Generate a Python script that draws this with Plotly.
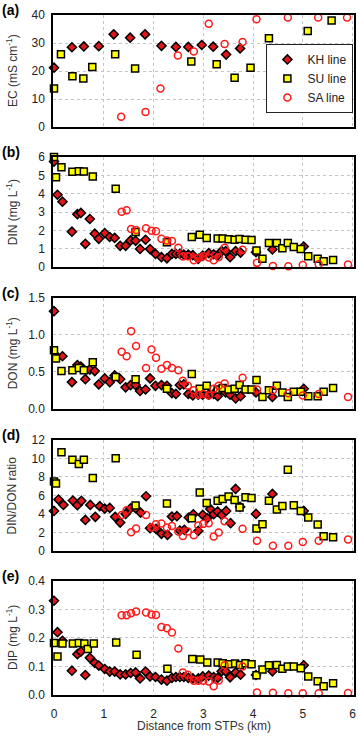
import plotly.graph_objects as go

# ---------------- data ----------------
# Panel (a) EC (mS cm-1)
KH_ec_x = [0.0, 0.36, 0.60, 0.90, 1.20, 1.53, 1.83, 2.16, 2.45, 2.70, 2.97, 3.20, 3.46, 3.74, 5.00]
KH_ec = [21.2, 28.5, 28.8, 28.9, 33.1, 31.9, 33.1, 29.0, 28.6, 28.6, 29.3, 28.7, 25.9, 28.1, 22.6]
SU_ec_x = [0.0, 0.14, 0.37, 0.59, 0.77, 1.23, 1.63, 2.76, 3.27, 3.63, 3.95, 4.32, 4.69, 5.10, 5.58]
SU_ec = [13.8, 26.0, 18.2, 17.4, 21.5, 26.0, 20.9, 23.4, 22.4, 17.6, 21.2, 31.7, 26.0, 34.3, 38.0]
SA_ec_x = [1.35, 1.84, 2.14, 2.49, 2.81, 3.11, 3.43, 3.79, 4.07, 4.70, 5.31, 5.89]
SA_ec = [3.7, 5.4, 13.8, 25.6, 27.0, 36.9, 29.7, 30.4, 38.5, 39.1, 39.1, 39.1]

# KH line (panels b, c, e)
KH_x = [0.0, 0.07, 0.17, 0.36, 0.47, 0.54, 0.63, 0.72, 0.82, 0.90,
        1.02, 1.12, 1.22, 1.33, 1.44, 1.54, 1.64, 1.73, 1.84, 1.93,
        2.04, 2.16, 2.27, 2.37, 2.45, 2.53, 2.61, 2.70, 2.79, 2.90,
        2.99, 3.11, 3.21, 3.29, 3.37, 3.45, 3.54, 3.65, 3.75, 4.06,
        4.39, 5.02]
KH_din = [5.76, 3.95, 3.57, 1.94, 2.89, 2.96, 1.28, 2.63, 1.83, 1.55,
          1.86, 1.65, 1.60, 1.17, 1.17, 1.46, 1.44, 1.00, 1.50, 0.99,
          0.73, 0.55, 0.49, 0.73, 0.73, 0.73, 0.69, 0.69, 0.66, 0.46,
          0.64, 0.77, 0.71, 0.64, 0.88, 0.88, 0.55, 0.88, 0.80, 0.82,
          0.97, 1.13]
KH_don = [1.32, 0.70, 0.71, 0.36, 0.59, 0.57, 0.40, 0.53, 0.51, 0.33,
          0.41, 0.36, 0.45, 0.40, 0.29, 0.32, 0.32, 0.24, 0.26, 0.41,
          0.31, 0.32, 0.31, 0.21, 0.20, 0.32, 0.33, 0.20, 0.18, 0.19,
          0.19, 0.19, 0.20, 0.17, 0.26, 0.22, 0.19, 0.14, 0.17, 0.22,
          0.16, 0.27]
KH_dip = [0.33, 0.22, 0.19, 0.085, 0.143, 0.152, 0.07, 0.13, 0.112, 0.103,
          0.091, 0.082, 0.082, 0.072, 0.072, 0.077, 0.079, 0.058, 0.082, 0.065,
          0.063, 0.054, 0.05, 0.06, 0.063, 0.063, 0.063, 0.06, 0.058, 0.058,
          0.065, 0.068, 0.063, 0.06, 0.083, 0.083, 0.062, 0.079, 0.071, 0.07,
          0.083, 0.104]
KH_ratio_x = [0.0, 0.09, 0.19, 0.38, 0.47, 0.55, 0.63, 0.73, 0.83, 0.92,
              1.02, 1.12, 1.23, 1.33, 1.44, 1.54, 1.64, 1.74, 1.85, 1.93,
              2.05, 2.16, 2.28, 2.37, 2.47, 2.53, 2.62, 2.71, 2.80, 2.90,
              2.99, 3.08, 3.14, 3.21, 3.29, 3.37, 3.46, 3.55, 3.65, 3.74,
              4.06, 4.39, 5.02]
KH_ratio = [4.32, 5.55, 4.97, 5.44, 4.94, 5.41, 3.35, 4.97, 3.68, 4.83,
            4.58, 4.65, 3.68, 3.06, 4.0, 4.61, 4.61, 4.14, 5.91, 2.45,
            2.38, 1.84, 1.73, 3.71, 3.75, 2.2, 2.27, 3.6, 3.96, 2.16,
            3.89, 3.53, 4.54, 3.96, 4.25, 3.89, 4.32, 2.99, 6.7, 4.76,
            4.0, 6.16, 4.32]

# SU line
SU_x = [0.0, 0.04, 0.15, 0.37, 0.50, 0.60, 0.78, 1.24, 1.64, 2.27,
        2.77, 2.93, 3.07, 3.29, 3.39, 3.51, 3.63, 3.73, 3.85, 3.97,
        4.07, 4.19, 4.32, 4.48, 4.59, 4.70, 4.82, 4.96, 5.11, 5.30,
        5.42, 5.61]
SU_din = [6.0, 4.9, 5.45, 5.2, 5.23, 5.22, 4.95, 4.28, 1.92, 1.37,
          1.65, 1.77, 1.6, 1.57, 1.57, 1.52, 1.5, 1.54, 1.5, 1.48,
          0.91, 0.46, 1.32, 1.32, 1.04, 1.32, 1.1, 1.0, 0.6, 0.46,
          0.33, 0.4]
SU_don = [0.79, 0.68, 0.51, 0.52, 0.55, 0.52, 0.63, 0.43, 0.40, 0.27,
          0.47, 0.27, 0.31, 0.26, 0.28, 0.26, 0.27, 0.32, 0.26, 0.26,
          0.39, 0.16, 0.25, 0.31, 0.22, 0.16, 0.23, 0.23, 0.17, 0.17,
          0.23, 0.28]
SU_ratio = [7.5, 7.28, 10.67, 9.87, 9.4, 9.87, 7.89, 10.02, 4.9, 5.12,
            3.53, 6.31, 5.19, 5.41, 5.62, 5.87, 5.51, 4.68, 5.8, 5.73,
            2.41, 2.88, 5.41, 4.47, 4.86, 8.79, 4.94, 4.32, 3.6, 2.85,
            1.59, 1.48]
SU_dip_x = [0.0, 0.07, 0.17, 0.38, 0.50, 0.61, 0.68, 0.80, 1.25, 1.66,
            2.28, 2.78, 2.94, 3.08, 3.29, 3.39, 3.52, 3.64, 3.74, 3.85,
            3.97, 4.07, 4.19, 4.32, 4.48, 4.59, 4.70, 4.82, 4.96, 5.11,
            5.30, 5.42, 5.61]
SU_dip = [0.182, 0.135, 0.18, 0.18, 0.182, 0.18, 0.161, 0.18, 0.184, 0.141,
          0.092, 0.126, 0.124, 0.114, 0.114, 0.111, 0.108, 0.11, 0.105, 0.111,
          0.108, 0.069, 0.089, 0.104, 0.105, 0.092, 0.1, 0.1, 0.094, 0.065,
          0.048, 0.031, 0.041]

# SA line
SA_x = [1.36, 1.46, 1.55, 1.65, 1.85, 1.96, 2.05, 2.16, 2.27, 2.37,
        2.50, 2.59, 2.69, 2.81, 2.90, 3.00, 3.11, 3.21, 3.31, 3.43,
        3.79, 4.08, 4.40, 4.71, 5.00, 5.32, 5.91]
SA_din = [3.02, 3.11, 2.09, 2.03, 2.12, 1.99, 1.96, 1.55, 1.46, 1.43,
          1.06, 0.59, 0.60, 0.38, 0.49, 0.60, 0.53, 0.38, 0.55, 1.06,
          0.95, 0.24, 0.07, 0.05, 0.13, 0.16, 0.15]
SA_don = [0.77, 0.71, 1.05, 0.85, 0.55, 0.80, 0.69, 0.54, 0.59, 0.55,
          0.52, 0.38, 0.31, 0.25, 0.19, 0.20, 0.18, 0.27, 0.31, 0.34,
          0.42, 0.26, 0.25, 0.21, 0.18, 0.20, 0.16]
SA_ratio = [3.89, 4.4, 2.02, 2.41, 3.89, 2.52, 2.88, 2.95, 2.52, 2.7,
            2.09, 1.62, 2.09, 1.69, 2.74, 2.92, 2.99, 1.55, 1.98, 3.21,
            2.38, 1.08, 0.54, 0.54, 0.97, 1.08, 1.23]
SA_dip = [0.279, 0.279, 0.286, 0.292, 0.289, 0.282, 0.28, 0.238, 0.234, 0.219,
          0.163, 0.079, 0.071, 0.05, 0.05, 0.05, 0.047, 0.031, 0.051, 0.104,
          0.1, 0.009, 0.008, 0.006, 0.006, 0.006, 0.007]

series_names = ["KH line", "SU line", "SA line"]
panel_labels = ["(a)", "(b)", "(c)", "(d)", "(e)"]
y_titles = ["EC (mS cm<sup>-1</sup>)", "DIN (mg L<sup>-1</sup>)", "DON (mg L<sup>-1</sup>)",
            "DIN/DON ratio", "DIP (mg L<sup>-1</sup>)"]
x_title = "Distance from STPs (km)"
x_ticks = [0, 1, 2, 3, 4, 5, 6]

# ---------------- styling ----------------
FONT = "Liberation Sans, Arial, Helvetica, sans-serif"
styles = {
    "KH line": dict(symbol="diamond", size=7, color="#e3161c", line=dict(color="black", width=1.5)),
    "SU line": dict(symbol="square", size=7, color="#ffff00", line=dict(color="black", width=1.5)),
    "SA line": dict(symbol="circle-open", size=7, color="#ff1a1a", line=dict(color="#ff1a1a", width=1.5)),
}

panels = [
    [(KH_ec_x, KH_ec), (SU_ec_x, SU_ec), (SA_ec_x, SA_ec)],
    [(KH_x, KH_din), (SU_x, SU_din), (SA_x, SA_din)],
    [(KH_x, KH_don), (SU_x, SU_don), (SA_x, SA_don)],
    [(KH_ratio_x, KH_ratio), (SU_x, SU_ratio), (SA_x, SA_ratio)],
    [(KH_x, KH_dip), (SU_dip_x, SU_dip), (SA_x, SA_dip)],
]
y_ranges = [[0, 40], [0, 6], [0, 1.5], [0, 12], [0, 0.4]]
y_dticks = [10, 1, 0.5, 2, 0.1]
y_formats = ["d", "d", ".1f", "d", ".1f"]
domains = [[0.835, 1.0], [0.629, 0.791], [0.421, 0.584], [0.212, 0.375], [0.0, 0.168]]

fig = go.Figure()
for i, panel in enumerate(panels):
    ax = "" if i == 0 else str(i + 1)
    for name, (xs, ys) in zip(series_names, panel):
        fig.add_trace(go.Scatter(
            x=xs, y=ys, mode="markers", name=name,
            marker=styles[name], cliponaxis=False,
            showlegend=(i == 0),
            xaxis="x" + ax, yaxis="y" + ax,
        ))

layout = dict(
    width=358, height=736,
    margin=dict(l=53, r=2, t=15, b=41),
    paper_bgcolor="white", plot_bgcolor="white",
    font=dict(family=FONT, size=12, color="#222"),
    legend=dict(x=0.998, xanchor="right", y=0.856, yanchor="bottom",
                bgcolor="white", bordercolor="#222", borderwidth=1,
                font=dict(size=12, color="#222"), itemwidth=30,
                tracegroupgap=0),
    annotations=[],
)
common_grid = dict(showgrid=True, gridcolor="#c4c4c4", griddash="dot", gridwidth=1,
                   showline=True, linecolor="black", linewidth=1.5, mirror=True,
                   zeroline=False)
for i in range(5):
    ax = "" if i == 0 else str(i + 1)
    layout["xaxis" + ax] = dict(
        domain=[0, 1], anchor="y" + ax, range=[-0.02, 6.03],
        tickvals=x_ticks, showticklabels=(i == 4),
        ticks="outside" if i == 4 else "", ticklen=7, tickcolor="rgba(0,0,0,0)",
        tickfont=dict(size=12, color="#222"),
        **common_grid,
    )
    layout["yaxis" + ax] = dict(
        domain=domains[i], anchor="x" + ax, range=y_ranges[i],
        dtick=y_dticks[i], tick0=0, tickformat=y_formats[i],
        ticks="outside", ticklen=4, tickcolor="rgba(0,0,0,0)",
        tickfont=dict(size=12, color="#222"),
        **common_grid,
    )
    layout["annotations"].append(dict(
        text=y_titles[i], textangle=-90, xref="paper", yref="paper",
        x=0, xshift=-41, xanchor="center",
        y=(domains[i][0] + domains[i][1]) / 2, yanchor="middle",
        showarrow=False, font=dict(size=12, color="#333")))
    layout["annotations"].append(dict(
        text="<b>" + panel_labels[i] + "</b>", xref="paper", yref="paper",
        x=0, xshift=-53, xanchor="left",
        y=domains[i][1], yshift=5, yanchor="middle",
        showarrow=False, font=dict(size=14, color="black")))

# x-axis title of the bottom panel
layout["annotations"].append(dict(
    text=x_title, xref="paper", yref="paper", x=0.5, y=0, yshift=-31,
    xanchor="center", yanchor="middle", showarrow=False,
    font=dict(size=12, color="#333")))

fig.update_layout(**layout)
fig.write_html(
    "out.html",
    config={"displayModeBar": False},
    post_script="document.body.style.margin='0';document.body.style.overflow='hidden';"
                "document.documentElement.style.overflow='hidden';",
)
